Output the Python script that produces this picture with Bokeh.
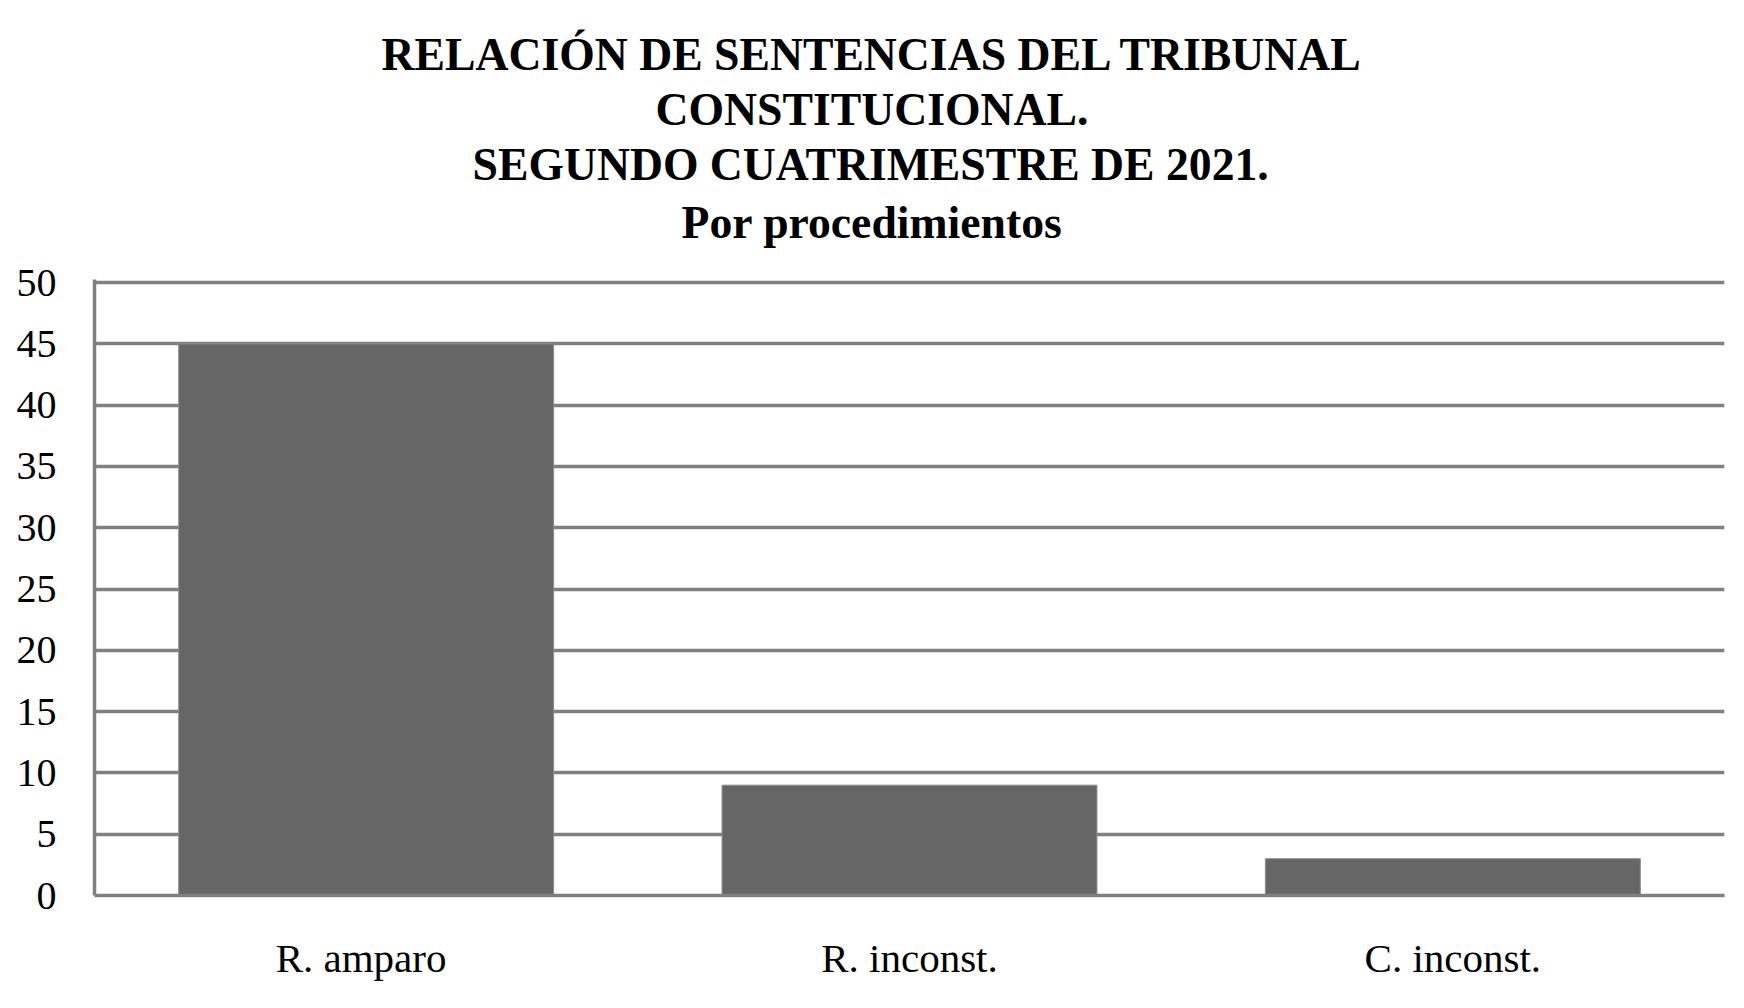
from bokeh.plotting import figure
from bokeh.models import FactorRange, Range1d, FixedTicker, Title
from bokeh.embed import file_html
from bokeh.resources import INLINE

categories = ["R. amparo ", "R. inconst.", "C. inconst."]
values = [45, 9, 3]
y_ticks = [0, 5, 10, 15, 20, 25, 30, 35, 40, 45, 50]
title_lines = [
    "RELACIÓN DE SENTENCIAS DEL TRIBUNAL",
    "CONSTITUCIONAL.",
    "SEGUNDO CUATRIMESTRE DE 2021.",
    "Por procedimientos",
]

FONT = "Liberation Serif"
W, H = 1728, 992
FRAME_LEFT = 94

p = figure(width=W, height=H, x_range=FactorRange(factors=categories, range_padding=0),
           y_range=Range1d(0, 50.25), output_backend="svg", toolbar_location=None,
           title=None,
           min_border_left=FRAME_LEFT, min_border_right=4, min_border_top=279, min_border_bottom=97)
p.outline_line_color = None
p.background_fill_color = "white"
p.border_fill_color = "white"

p.vbar(x=categories, top=values, width=0.69, fill_color="#666666",
       line_color="#8c8c8c", line_width=1)

# axes
p.yaxis.ticker = FixedTicker(ticks=y_ticks)
p.yaxis.major_label_text_font = FONT
p.yaxis.major_label_text_font_size = "40px"
p.yaxis.major_label_text_color = "black"
p.yaxis.major_tick_line_color = None
p.yaxis.minor_tick_line_color = None
p.yaxis.axis_line_color = "#808080"
p.yaxis.axis_line_width = 3.5
p.yaxis.major_label_standoff = 32

p.xaxis.major_label_text_font = FONT
p.xaxis.major_label_text_font_size = "41px"
p.xaxis.major_label_text_color = "black"
p.xaxis.major_tick_line_color = None
p.xaxis.axis_line_color = "#808080"
p.xaxis.axis_line_width = 3.5
p.xaxis.major_label_standoff = 33

p.xgrid.grid_line_color = None
p.ygrid.grid_line_color = "#808080"
p.ygrid.grid_line_width = 3.5

# spacer between the plot frame and the title block
p.add_layout(Title(text=" ", text_font_size="1px", standoff=25), "above")

# title lines, each centred on x=869 of the page (left edges measured)
left_edges = [381, 655, 472, 681]
standoffs = [2, 2, 2, 8]
for line, le, so in reversed(list(zip(title_lines, left_edges, standoffs))):
    p.add_layout(Title(text=line, align="left", offset=le - FRAME_LEFT,
                       text_font=FONT, text_font_style="bold", text_font_size="45.7px",
                       text_color="black", standoff=so), "above")

open("out.html", "w").write(file_html(p, INLINE))
